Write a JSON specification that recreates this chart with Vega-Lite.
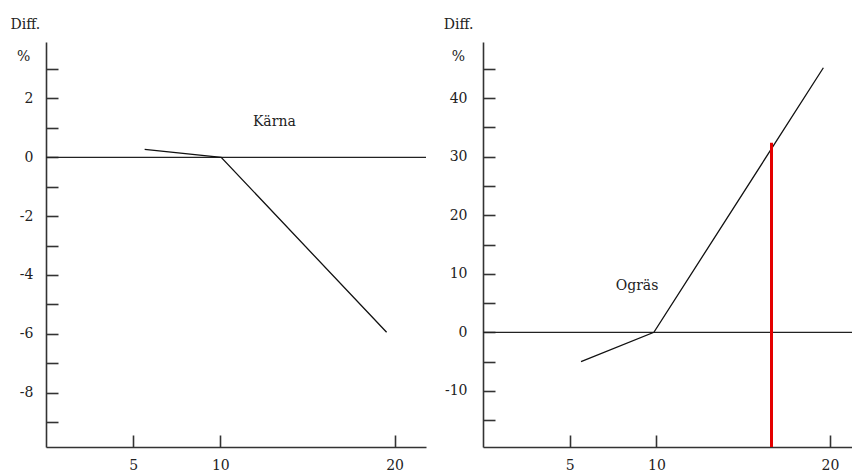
{
  "$schema": "https://vega.github.io/schema/vega-lite/v6.json",
  "padding": {"left": 10, "top": 18, "right": 0, "bottom": 0},
  "background": "white",
  "config": {
    "font": "DejaVu Serif",
    "locale": {"number": {"decimal": ".", "thousands": ",", "grouping": [3], "currency": ["$", ""], "minus": "-"}},
    "view": {"stroke": null},
    "axis": {
      "grid": false,
      "domainColor": "#333333",
      "domainWidth": 1.6,
      "tickColor": "#333333",
      "tickWidth": 1.6,
      "tickSize": -12,
      "labelFont": "DejaVu Serif",
      "labelFontSize": 14,
      "labelColor": "#222222",
      "labelOverlap": false,
      "titleFont": "DejaVu Serif",
      "titleFontSize": 14,
      "titleFontWeight": "normal",
      "titleColor": "#222222"
    },
    "title": {"font": "DejaVu Serif", "fontSize": 14, "fontWeight": "normal", "color": "#222222"},
    "concat": {"spacing": 57}
  },
  "datasets": {
    "karna": [
      {"x": 5.66, "y": 0.27},
      {"x": 10.05, "y": 0},
      {"x": 19.54, "y": -5.95}
    ],
    "ogras": [
      {"x": 5.65, "y": -5},
      {"x": 9.85, "y": 0},
      {"x": 19.62, "y": 45.2}
    ],
    "ref": [{"y": 0}],
    "karnaLabel": [{"x": 13.1, "y": 1.21, "text": "Kärna"}],
    "ograsLabel": [{"x": 8.88, "y": 7.86, "text": "Ogräs"}],
    "red": [{"x": 16.63, "y": -19.6, "y2": 32.4}]
  },
  "bounds": "flush",
  "hconcat": [
    {
      "width": 380,
      "height": 405,
      "title": {"text": "Diff.", "anchor": "start", "frame": "group", "dx": -35.5, "offset": -1, "baseline": "alphabetic"},
      "resolve": {"scale": {"y": "independent"}, "axis": {"y": "independent"}},
      "layer": [
        {
          "data": {"name": "ref"},
          "mark": {"type": "rule", "color": "#222222", "strokeWidth": 1.3},
          "encoding": {
            "y": {"field": "y", "type": "quantitative", "scale": {"domain": [-9.85, 3.92], "nice": false, "zero": false},
              "axis": {"orient": "left", "values": [-9, -7, -5, -3, -1, 1, 3], "labels": false, "title": null, "domain": false}}
          }
        },
        {
          "layer": [
            {
              "data": {"name": "karna"},
              "mark": {"type": "line", "color": "#111111", "strokeWidth": 1.3},
              "encoding": {
                "x": {"field": "x", "type": "quantitative", "scale": {"domain": [0, 21.8], "nice": false},
                  "axis": {"values": [5, 10, 20], "labelPadding": 23, "title": null}},
                "y": {"field": "y", "type": "quantitative", "scale": {"domain": [-9.85, 3.92], "nice": false, "zero": false},
                  "axis": {"orient": "left", "values": [-8, -6, -4, -2, 0, 2], "labelPadding": 25, "title": "%", "titleAngle": 0, "titleX": -22.8, "titleY": 18, "titleAlign": "center", "titleBaseline": "alphabetic"}}
              }
            },
            {
              "data": {"name": "karnaLabel"},
              "mark": {"type": "text", "fontSize": 14, "color": "#222222", "font": "DejaVu Serif"},
              "encoding": {
                "x": {"field": "x", "type": "quantitative"},
                "y": {"field": "y", "type": "quantitative"},
                "text": {"field": "text"}
              }
            }
          ]
        }
      ]
    },
    {
      "width": 369,
      "height": 405,
      "title": {"text": "Diff.", "anchor": "start", "frame": "group", "dx": -39.2, "offset": -1, "baseline": "alphabetic"},
      "resolve": {"scale": {"y": "independent"}, "axis": {"y": "independent"}},
      "layer": [
        {
          "data": {"name": "ref"},
          "mark": {"type": "rule", "color": "#222222", "strokeWidth": 1.3},
          "encoding": {
            "y": {"field": "y", "type": "quantitative", "scale": {"domain": [-19.6, 49.6], "nice": false, "zero": false},
              "axis": {"orient": "left", "values": [-15, -5, 5, 15, 25, 35, 45], "labels": false, "title": null, "domain": false}}
          }
        },
        {
          "layer": [
            {
              "data": {"name": "ogras"},
              "mark": {"type": "line", "color": "#111111", "strokeWidth": 1.3},
              "encoding": {
                "x": {"field": "x", "type": "quantitative", "scale": {"domain": [0, 21.27], "nice": false},
                  "axis": {"values": [5, 10, 20], "labelPadding": 23, "title": null}},
                "y": {"field": "y", "type": "quantitative", "scale": {"domain": [-19.6, 49.6], "nice": false, "zero": false},
                  "axis": {"orient": "left", "values": [-10, 0, 10, 20, 30, 40], "labelPadding": 28, "title": "%", "titleAngle": 0, "titleX": -25, "titleY": 18, "titleAlign": "center", "titleBaseline": "alphabetic"}}
              }
            },
            {
              "data": {"name": "red"},
              "mark": {"type": "rule", "color": "#e40000", "strokeWidth": 3},
              "encoding": {
                "x": {"field": "x", "type": "quantitative"},
                "y": {"field": "y", "type": "quantitative"},
                "y2": {"field": "y2"}
              }
            },
            {
              "data": {"name": "ograsLabel"},
              "mark": {"type": "text", "fontSize": 14, "color": "#222222", "font": "DejaVu Serif"},
              "encoding": {
                "x": {"field": "x", "type": "quantitative"},
                "y": {"field": "y", "type": "quantitative"},
                "text": {"field": "text"}
              }
            }
          ]
        }
      ]
    }
  ]
}
